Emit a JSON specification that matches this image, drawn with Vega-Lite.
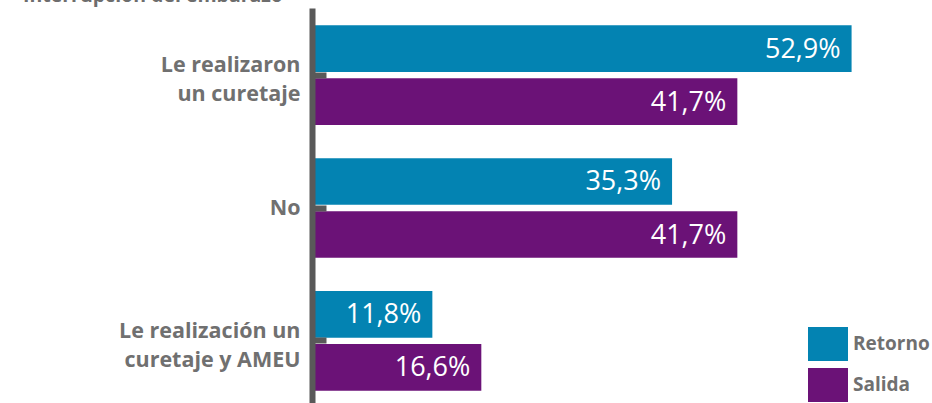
{
  "$schema": "https://vega.github.io/schema/vega-lite/v6.json",
  "autosize": "none",
  "width": 612,
  "height": 400,
  "padding": {"left": 312, "top": 8, "right": 8, "bottom": 0},
  "background": "white",
  "title": {
    "text": "Interrupción del embarazo",
    "anchor": "start",
    "frame": "group",
    "dx": -289,
    "dy": 16,
    "offset": 3,
    "baseline": "alphabetic",
    "font": "Open Sans",
    "fontSize": 19.5,
    "fontWeight": "bold",
    "color": "#6d6d6d"
  },
  "data": {
    "values": [
      {"grupo": "Le realizaron un curetaje", "serie": "Retorno", "valor": 52.9, "etiqueta": "52,9%"},
      {"grupo": "Le realizaron un curetaje", "serie": "Salida", "valor": 41.7, "etiqueta": "41,7%"},
      {"grupo": "No", "serie": "Retorno", "valor": 35.3, "etiqueta": "35,3%"},
      {"grupo": "No", "serie": "Salida", "valor": 41.7, "etiqueta": "41,7%"},
      {"grupo": "Le realización un curetaje y AMEU", "serie": "Retorno", "valor": 11.8, "etiqueta": "11,8%"},
      {"grupo": "Le realización un curetaje y AMEU", "serie": "Salida", "valor": 16.6, "etiqueta": "16,6%"}
    ]
  },
  "encoding": {
    "y": {
      "field": "grupo",
      "type": "nominal",
      "sort": ["Le realizaron un curetaje", "No", "Le realización un curetaje y AMEU"],
      "scale": {"paddingInner": 0.25, "paddingOuter": 0.13},
      "axis": {
        "title": null,
        "zindex": 1,
        "domainColor": "#595959",
        "domainWidth": 6,
        "tickColor": "#595959",
        "tickWidth": 6,
        "tickSize": -14,
        "labelPadding": 26,
        "labelLimit": 300,
        "labelFont": "Open Sans",
        "labelFontSize": 21.5,
        "labelFontWeight": "bold",
        "labelColor": "#707070",
        "labelLineHeight": 29,
        "labelOffset": {"condition": {"test": "datum.value == 'No'", "value": 1}, "value": -9},
        "labelExpr": "datum.label == 'Le realizaron un curetaje' ? ['Le realizaron', 'un curetaje'] : datum.label == 'Le realización un curetaje y AMEU' ? ['Le realización un', 'curetaje y AMEU'] : datum.label"
      }
    },
    "yOffset": {
      "field": "serie",
      "sort": ["Retorno", "Salida"],
      "scale": {"paddingInner": 0.12, "paddingOuter": 0}
    },
    "x": {
      "field": "valor",
      "type": "quantitative",
      "scale": {"domain": [0, 60]},
      "axis": null
    }
  },
  "layer": [
    {
      "mark": {"type": "bar"},
      "encoding": {
        "color": {
          "field": "serie",
          "type": "nominal",
          "scale": {"domain": ["Retorno", "Salida"], "range": ["#0383b2", "#6b1277"]},
          "legend": {
            "orient": "none",
            "legendX": 496,
            "legendY": 316,
            "title": null,
            "padding": 0,
            "symbolType": "M-1,-0.85H1V0.85H-1Z",
            "symbolSize": 1600,
            "symbolStrokeWidth": 0,
            "symbolOpacity": 1,
            "labelFont": "Open Sans",
            "labelFontSize": 19,
            "labelFontWeight": "bold",
            "labelColor": "#707070",
            "labelOffset": 5,
            "rowPadding": 4
          }
        }
      }
    },
    {
      "mark": {
        "type": "text",
        "align": "right",
        "baseline": "middle",
        "dx": -11,
        "dy": 1,
        "color": "white",
        "font": "Open Sans",
        "fontSize": 27
      },
      "encoding": {"text": {"field": "etiqueta"}}
    }
  ],
  "config": {"view": {"stroke": null}}
}
